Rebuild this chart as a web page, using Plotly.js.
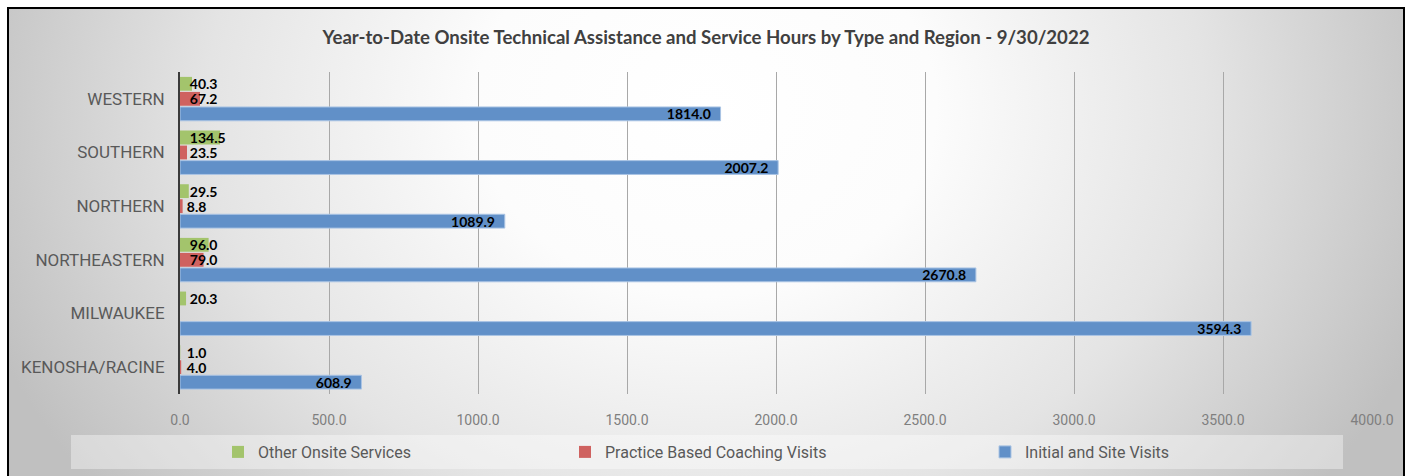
<!DOCTYPE html>
<html>
<head>
<meta charset="utf-8">
<script src="https://cdn.plot.ly/plotly-3.0.1.min.js"></script>
<style>
  html, body { margin: 0; padding: 0; width: 1412px; height: 476px; overflow: hidden; background: #ffffff; }
  #bg {
    position: absolute; left: 7px; top: 7px; width: 1398px; height: 490px;
    box-sizing: border-box; border: 2px solid #000;
    background: radial-gradient(ellipse 55% 130% at 50% 20%, #ffffff 0%, #fcfcfc 30%, #e4e4e4 65%, #c0c0c0 100%);
  }
  #chart { position: absolute; left: 0; top: 0; width: 1412px; height: 476px; }
</style>
</head>
<body>
<div id="bg"></div>
<div id="chart"></div>
<script>
const regions = ["KENOSHA/RACINE", "MILWAUKEE", "NORTHEASTERN", "NORTHERN", "SOUTHERN", "WESTERN"];
const otherOnsite = [1.0, 20.3, 96.0, 29.5, 134.5, 40.3];
const practiceCoaching = [4.0, null, 79.0, 8.8, 23.5, 67.2];
const initialSite = [608.9, 3594.3, 2670.8, 1089.9, 2007.2, 1814.0];
const xTicks = [0, 500, 1000, 1500, 2000, 2500, 3000, 3500, 4000];

const NB = "\u00a0";
const labelFont = { family: "Lato, 'DejaVu Sans', sans-serif", size: 14, color: "#000000", weight: "bold" };

const traces = [
  {
    type: "bar", orientation: "h", name: "Initial and Site Visits",
    y: regions, x: initialSite, legend: "legend3",
    marker: { color: "#6190c8", line: { color: "#aac4e4", width: 1 } },
    texttemplate: "%{x:.1f}" + NB + NB, textposition: "inside", insidetextanchor: "end",
    constraintext: "none", textangle: 0, insidetextfont: labelFont, textfont: labelFont,
    cliponaxis: false, hoverinfo: "x+name"
  },
  {
    type: "bar", orientation: "h", name: "Practice Based Coaching Visits",
    y: regions, x: practiceCoaching, legend: "legend2",
    marker: { color: "#cf6260" },
    texttemplate: NB + NB + "%{x:.1f}", textposition: "inside", insidetextanchor: "start",
    constraintext: "none", textangle: 0, insidetextfont: labelFont, textfont: labelFont,
    cliponaxis: false, hoverinfo: "x+name"
  },
  {
    type: "bar", orientation: "h", name: "Other Onsite Services",
    y: regions, x: otherOnsite, legend: "legend",
    marker: { color: "#a3c46c" },
    texttemplate: NB + NB + "%{x:.1f}", textposition: "inside", insidetextanchor: "start",
    constraintext: "none", textangle: 0, insidetextfont: labelFont, textfont: labelFont,
    cliponaxis: false, hoverinfo: "x+name"
  }
];

const legendFont = { family: "Roboto, sans-serif", size: 16, color: "#595959" };
function legendAt(px) {
  return {
    orientation: "h", x: px / 1412, xref: "container", xanchor: "left",
    y: 1 - 452 / 476, yref: "container", yanchor: "middle",
    bgcolor: "rgba(0,0,0,0)", borderwidth: 0, font: legendFont
  };
}

const layout = {
  width: 1412, height: 476,
  margin: { l: 180, r: 40, t: 72, b: 82, pad: 0 },
  paper_bgcolor: "rgba(0,0,0,0)",
  plot_bgcolor: "rgba(0,0,0,0)",
  barmode: "group",
  bargap: 0.16,
  bargroupgap: 0.08,
  title: {
    text: "Year-to-Date Onsite Technical Assistance and Service Hours by Type and Region - 9/30/2022",
    font: { family: "Lato, 'DejaVu Sans', sans-serif", size: 18.6, color: "#404040", weight: "bold" },
    x: 0.5, xref: "container", xanchor: "center",
    y: 1 - 37 / 476, yref: "container", yanchor: "middle"
  },
  xaxis: {
    range: [0, 4000], tickvals: xTicks, tickformat: ".1f",
    showgrid: true, gridcolor: "#a8a8a8", gridwidth: 1,
    zeroline: false, showline: false, ticks: "",
    ticklabelstandoff: 16,
    tickfont: { family: "Roboto, sans-serif", size: 14, color: "#7f7f7f" },
    fixedrange: true
  },
  yaxis: {
    type: "category", categoryorder: "array", categoryarray: regions,
    showgrid: false, zeroline: false,
    showline: true, linecolor: "#3a3a3a", linewidth: 2,
    ticks: "", ticklabelstandoff: 10,
    tickfont: { family: "Roboto, sans-serif", size: 17, color: "#595959" },
    fixedrange: true
  },
  showlegend: true,
  legend: legendAt(218),
  legend2: legendAt(565),
  legend3: legendAt(985),
  shapes: [
    {
      type: "rect", xref: "paper", yref: "paper", layer: "below",
      x0: (71 - 180) / 1192, x1: (1343 - 180) / 1192,
      y0: (394 - 469) / 322, y1: (394 - 435) / 322,
      fillcolor: "rgba(255,255,255,0.38)", line: { width: 0 }
    }
  ]
};

Plotly.newPlot("chart", traces, layout, { displayModeBar: false, staticPlot: true });
</script>
</body>
</html>
